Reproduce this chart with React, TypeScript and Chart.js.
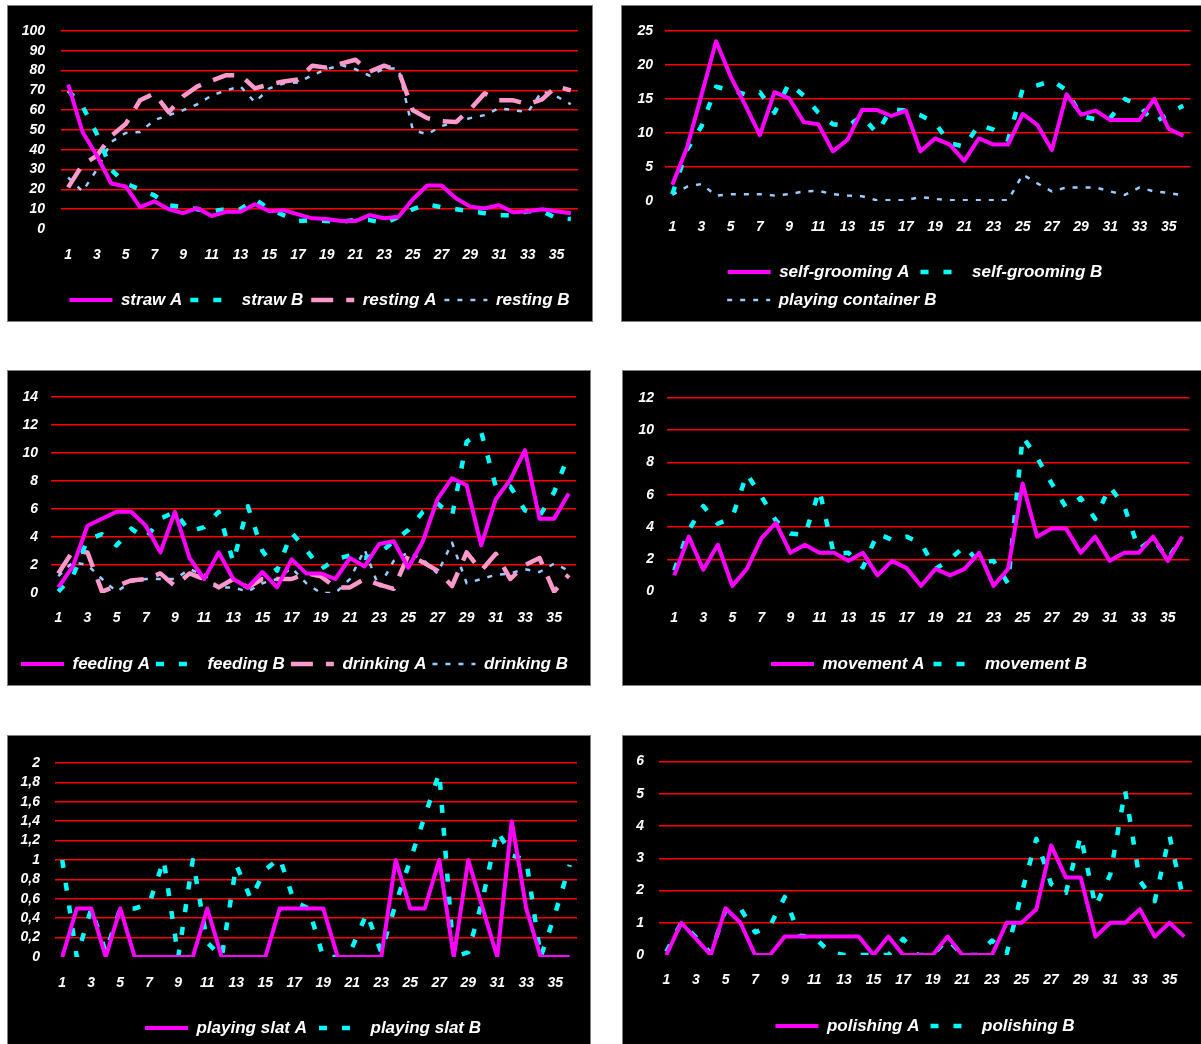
import React, { useEffect, useRef } from 'react';
import { Chart, registerables } from 'chart.js';

Chart.register(...registerables);

const days = ['1','2','3','4','5','6','7','8','9','10','11','12','13','14','15','16','17','18','19','20','21','22','23','24','25','26','27','28','29','30','31','32','33','34','35','36'];

// Panel 1
const strawA = [73, 49, 37, 23, 21.5, 11, 14, 10, 8, 10.5, 6.6, 8.7, 8.7, 12.5, 9, 9.5, 7.4, 5.4, 5, 4, 4, 7, 5.4, 6.2, 15, 22, 22, 15.5, 11.3, 10.4, 12, 8.4, 9, 10, 9, 8];
const strawB = [70, 62, 48, 30, 23, 20, 17, 12, 11, 10, 9, 10, 10, 15, 10, 7, 4, 4.5, 4, 3.7, 4.5, 4.5, 3, 6, 10, 12.5, 11, 10, 9, 8, 7, 7, 9, 9, 5.5, 5];
const restingA = [21, 32.5, 37, 47, 53, 65, 68.5, 59, 67, 72, 75, 77.7, 77.7, 71, 73, 74.5, 75.5, 82.5, 81.5, 83.5, 85.5, 79.5, 82.5, 80, 60, 56, 54.5, 54, 60.5, 68.5, 65, 65, 63, 65.5, 72, 70];
const restingB = [26, 19, 30, 44, 48.5, 49, 55, 57.5, 60, 63, 67.5, 70, 72, 64, 71, 73.5, 74, 77.7, 80.7, 82.8, 80.7, 77.4, 81, 81, 50, 47.8, 52, 54, 56, 57.5, 61, 60, 59, 69.6, 67, 63];

// Panel 2
const selfGroomingA = [2.4, 7.8, 15.6, 23.5, 18.3, 14.1, 9.7, 16, 15.1, 11.6, 11.3, 7.3, 9, 13.4, 13.4, 12.5, 13.3, 7.3, 9.2, 8.3, 5.9, 9.2, 8.3, 8.3, 12.8, 11.2, 7.5, 15.7, 12.7, 13.3, 11.9, 11.9, 11.9, 15, 10.6, 9.6];
const selfGroomingB = [1, 7.5, 11, 16.8, 16.3, 15.7, 16, 13, 17.3, 15.5, 13, 11.3, 11, 12.5, 10, 13.5, 13.3, 12.6, 11.5, 8.5, 8, 11.2, 10.5, 9, 16.5, 17, 17.7, 16.3, 12.5, 12, 12.2, 15, 14, 11.5, 12.9, 14];
const playingContainerB = [0.9, 2.1, 2.5, 0.8, 1, 1, 1, 0.8, 1, 1.4, 1.5, 1, 0.8, 0.7, 0.1, 0.1, 0.1, 0.6, 0.3, 0.1, 0.1, 0.1, 0.1, 0.1, 3.9, 2.6, 1.4, 2, 2, 2, 1.4, 0.9, 2, 1.4, 1.2, 0.8];

// Panel 3
const feedingA = [0.4, 1.9, 4.8, 5.3, 5.8, 5.8, 4.8, 2.9, 5.8, 2.5, 1, 2.9, 1, 0.4, 1.5, 0.4, 2.4, 1.4, 1.4, 1, 2.5, 1.9, 3.5, 3.7, 1.8, 3.7, 6.7, 8.2, 7.7, 3.4, 6.7, 8.1, 10.2, 5.3, 5.3, 7.1];
const feedingB = [0.1, 1.2, 3.8, 4.2, 3.4, 4.6, 3.9, 5.3, 5.8, 4.4, 4.7, 5.8, 2.2, 6.2, 3, 1.6, 4.3, 3.1, 1.7, 2.4, 2.7, 2.5, 2.8, 3.7, 4.5, 5.8, 6.4, 5.5, 10.8, 11.5, 7.6, 7.6, 5.9, 5.5, 7.2, 9.9];
const drinkingA = [1.4, 3, 2.9, 0.1, 0.5, 0.9, 1, 1.4, 0.5, 1.4, 1, 0.4, 1, 0.4, 1, 1, 1, 1.4, 1.2, 0.4, 0.4, 1, 0.6, 0.3, 2.7, 2.2, 1.6, 0.5, 2.9, 1.6, 2.8, 1, 2, 2.5, 0.1, 1.3];
const drinkingB = [1.2, 2.2, 2, 1, 0.1, 0.8, 1, 1, 1, 1.7, 1.3, 0.4, 0.4, 0.1, 0.7, 1, 1.8, 0.7, 0, 0, 1, 3.1, 0.4, 2.3, 2.9, 2.4, 1.4, 3.6, 0.7, 1, 1.3, 1.4, 1.7, 1.5, 2.1, 1.6];

// Panel 4
const movementA = [1, 3.4, 1.35, 2.9, 0.35, 1.4, 3.3, 4.25, 2.4, 2.9, 2.4, 2.4, 1.9, 2.4, 1, 1.9, 1.45, 0.35, 1.4, 1, 1.4, 2.4, 0.35, 1.4, 6.7, 3.4, 3.9, 3.9, 2.4, 3.4, 1.9, 2.4, 2.4, 3.4, 1.9, 3.4];
const movementB = [1.3, 3.8, 5.3, 4.2, 4.6, 7.3, 5.9, 4.4, 3.6, 3.5, 6.3, 2.3, 2.4, 1.5, 3.6, 3.2, 3.4, 3, 1.4, 2, 2.8, 1.8, 1.9, 0.5, 9.6, 8.3, 6.7, 5.2, 5.8, 4.5, 6.5, 5.3, 2.6, 3.3, 2, 3.4];

// Panel 5
const playingSlatA = [0, 0.5, 0.5, 0, 0.5, 0, 0, 0, 0, 0, 0.5, 0, 0, 0, 0, 0.5, 0.5, 0.5, 0.5, 0, 0, 0, 0, 1, 0.5, 0.5, 1, 0, 1, 0.5, 0, 1.4, 0.5, 0, 0, 0];
const playingSlatB = [1, 0, 0.5, 0.05, 0.5, 0.5, 0.55, 1, 0, 1, 0.15, 0, 0.95, 0.6, 0.9, 1.02, 0.57, 0.5, 0, 0, 0.1, 0.45, 0.05, 0.55, 1, 1.45, 1.9, 0, 0.05, 0.6, 1.3, 1.05, 1, 0, 0.45, 0.95];

// Panel 6
const polishingA = [0, 1, 0.5, 0, 1.45, 1, 0, 0, 0.57, 0.57, 0.57, 0.57, 0.57, 0.57, 0, 0.57, 0, 0, 0, 0.57, 0, 0, 0, 1, 1, 1.42, 3.4, 2.4, 2.4, 0.57, 1, 1, 1.42, 0.57, 1, 0.57];
const polishingB = [0.1, 1, 0.55, 0.05, 1.4, 1.45, 0.7, 0.9, 1.8, 0.6, 0.55, 0.1, 0, 0, 0, 0, 0.5, 0, 0, 0.5, 0, 0, 0.45, 0.05, 1.9, 3.6, 2.2, 1.93, 3.7, 1.5, 2.5, 5.1, 2.3, 1.67, 3.7, 1.6];

const FAMILY = '"Liberation Sans", Arial, Helvetica, sans-serif';
const MAGENTA = '#FF00FF';
const CYAN = '#00FFFF';
const PINK = '#FF99CC';
const LIGHT_BLUE = '#99CCFF';
const GRID_RED = '#FF0000';

const styleA = { borderColor: MAGENTA, borderWidth: 4, borderDash: [] as number[] };
const styleB = { borderColor: CYAN, borderWidth: 4.5, borderDash: [8, 15] };
const stylePink = { borderColor: PINK, borderWidth: 4.5, borderDash: [22, 13] };
const styleLight = { borderColor: LIGHT_BLUE, borderWidth: 2.5, borderDash: [5, 8] };

function ds(label: string, data: number[], style: any) {
  return {
    label,
    data,
    borderColor: style.borderColor,
    backgroundColor: style.borderColor,
    borderWidth: style.borderWidth,
    borderDash: style.borderDash,
    borderCapStyle: 'butt',
    borderJoinStyle: 'round',
    pointRadius: 0,
    pointHoverRadius: 0,
    tension: 0,
    fill: false,
  };
}

type Spec = {
  box: { x: number; y: number; w: number; h: number };
  area: { l: number; t: number; r: number; b: number };
  legendCenter: number;
  yMax: number;
  yStep: number;
  yGap: number;
  xLabelY: number;
  legendY: number;
  legendPad: number;
  rows: number;
  alignRows?: boolean;
  comma?: boolean;
  datasets: any[];
};

const LEGEND_FS = 17;
const TICK_FS = 14;
const BOX_W = 43;

function ChartPanel({ spec }: { spec: Spec }) {
  const ref = useRef<HTMLCanvasElement | null>(null);
  useEffect(() => {
    const { box, area } = spec;
    const p = spec.legendPad;
    const legendTop = spec.legendY - p - LEGEND_FS / 2;
    const legendH = spec.rows * (LEGEND_FS + p) + 10;
    const padTop = area.t - box.y;
    const padRight = box.x + box.w - area.r;
    const padBottom = box.y + box.h - legendTop - legendH;
    const xAxisH = legendTop - area.b;
    const yAxisW = area.l - box.x;
    const xPad = spec.xLabelY - area.b - (TICK_FS * 1.2) / 2;
    const tickFont = { family: FAMILY, size: TICK_FS, weight: 'bold', style: 'italic' };
    const legendFont = { family: FAMILY, size: LEGEND_FS, weight: 'bold', style: 'italic' };
    const fontString = `italic bold ${LEGEND_FS}px ${FAMILY}`;

    const legendShift = {
      id: 'legendShift',
      afterLayout(chart: any) {
        const lg = chart.legend;
        if (!lg) return;
        const cur = (lg.left + lg.right) / 2;
        const shift = spec.legendCenter - box.x - cur;
        lg.left += shift;
        lg.right += shift;
      },
    };

    const chart = new Chart(ref.current as HTMLCanvasElement, {
      type: 'line',
      data: { labels: days, datasets: spec.datasets },
      plugins: [legendShift],
      options: {
        animation: false,
        responsive: false,
        maintainAspectRatio: false,
        events: [],
        layout: { padding: { left: 0, top: padTop, right: padRight, bottom: padBottom } },
        plugins: {
          tooltip: { enabled: false },
          legend: {
            display: true,
            position: 'bottom',
            align: 'center',
            labels: {
              usePointStyle: true,
              pointStyle: 'line',
              pointStyleWidth: BOX_W,
              boxWidth: BOX_W,
              padding: p,
              color: '#FFFFFF',
              font: legendFont,
              generateLabels: (chart: any) => {
                const items: any[] = chart.data.datasets.map((d: any, i: number) => ({
                  text: d.label,
                  fillStyle: 'rgba(0,0,0,0)',
                  strokeStyle: d.borderColor,
                  lineWidth: d.borderWidth,
                  lineDash: d.borderDash,
                  lineCap: 'butt',
                  pointStyle: 'line',
                  hidden: false,
                  fontColor: '#FFFFFF',
                  datasetIndex: i,
                }));
                if (spec.alignRows && items.length >= 3) {
                  const ctx = chart.ctx;
                  ctx.save();
                  ctx.font = fontString;
                  const tw = (t: string) => ctx.measureText(t).width;
                  const itemW = (t: string) => BOX_W + LEGEND_FS / 2 + tw(t);
                  const row1 = itemW(items[0].text) + p + itemW(items[1].text);
                  const row2 = itemW(items[2].text) + p;
                  const need = row1 - row2 - BOX_W - LEGEND_FS / 2;
                  const n = Math.max(0, Math.round(need / tw(' ')));
                  ctx.restore();
                  items.push({
                    text: ' '.repeat(n),
                    fillStyle: 'rgba(0,0,0,0)',
                    strokeStyle: 'rgba(0,0,0,0)',
                    lineWidth: 0,
                    lineDash: [],
                    pointStyle: 'line',
                    hidden: false,
                    fontColor: '#FFFFFF',
                    datasetIndex: -1,
                  });
                }
                return items;
              },
            },
          },
        },
        scales: {
          x: {
            type: 'category',
            offset: true,
            grid: { display: false, drawTicks: false },
            border: { display: false },
            ticks: {
              autoSkip: false,
              maxRotation: 0,
              minRotation: 0,
              padding: xPad,
              color: '#FFFFFF',
              font: tickFont,
              callback: (_v: any, i: number) => (i % 2 === 0 ? days[i] : ''),
            },
            afterFit: (s: any) => {
              s.height = xAxisH;
            },
          },
          y: {
            min: 0,
            max: spec.yMax,
            grid: {
              drawTicks: false,
              lineWidth: 1.5,
              color: (c: any) => (c.tick && Math.abs(c.tick.value) < 1e-9 ? 'rgba(0,0,0,0)' : GRID_RED),
            },
            border: { display: false },
            ticks: {
              autoSkip: false,
              stepSize: spec.yStep,
              maxTicksLimit: 20,
              padding: spec.yGap,
              color: '#FFFFFF',
              font: tickFont,
              callback: (v: any) => {
                const r = Math.round(Number(v) * 10) / 10;
                return spec.comma ? String(r).replace('.', ',') : String(r);
              },
            },
            afterFit: (s: any) => {
              s.width = yAxisW;
            },
          },
        },
      } as any,
    });
    return () => chart.destroy();
  }, []);

  const { box } = spec;
  return (
    <div
      style={{
        position: 'absolute',
        left: box.x - 1,
        top: box.y - 1,
        width: box.w,
        height: box.h,
        border: '1px solid #808080',
        background: '#000000',
      }}
    >
      <canvas ref={ref} width={box.w} height={box.h} style={{ display: 'block', width: box.w, height: box.h }} />
    </div>
  );
}

const panels: Spec[] = [
  {
    box: { x: 8, y: 6, w: 584, h: 315 },
    area: { l: 61, t: 31, r: 578, b: 229 },
    legendCenter: 319.5, yMax: 100, yStep: 10, yGap: 16, xLabelY: 255, legendY: 300, legendPad: 8, rows: 1,
    datasets: [ds('straw A', strawA, styleA), ds('straw B', strawB, styleB), ds('resting A', restingA, stylePink), ds('resting B', restingB, styleLight)],
  },
  {
    box: { x: 622, y: 6, w: 579, h: 315 },
    area: { l: 665, t: 31, r: 1193, b: 201 },
    legendCenter: 915, yMax: 25, yStep: 5, yGap: 12, xLabelY: 227, legendY: 272, legendPad: 11, rows: 2, alignRows: true,
    datasets: [ds('self-grooming A', selfGroomingA, styleA), ds('self-grooming B', selfGroomingB, styleB), ds('playing container B', playingContainerB, styleLight)],
  },
  {
    box: { x: 8, y: 371, w: 582, h: 314 },
    area: { l: 51, t: 397, r: 576, b: 593 },
    legendCenter: 294.5, yMax: 14, yStep: 2, yGap: 13, xLabelY: 618.5, legendY: 664, legendPad: 6, rows: 1,
    datasets: [ds('feeding A', feedingA, styleA), ds('feeding B', feedingB, styleB), ds('drinking A', drinkingA, stylePink), ds('drinking B', drinkingB, styleLight)],
  },
  {
    box: { x: 623, y: 371, w: 578, h: 314 },
    area: { l: 667, t: 398, r: 1193, b: 591.5 },
    legendCenter: 929, yMax: 12, yStep: 2, yGap: 13, xLabelY: 618.5, legendY: 664, legendPad: 9, rows: 1,
    datasets: [ds('movement A', movementA, styleA), ds('movement B', movementB, styleB)],
  },
  {
    box: { x: 8, y: 736, w: 582, h: 320 },
    area: { l: 55, t: 763, r: 577, b: 957 },
    legendCenter: 313, yMax: 2, yStep: 0.2, yGap: 15, xLabelY: 983, legendY: 1028, legendPad: 12, rows: 1, comma: true,
    datasets: [ds('playing slat A', playingSlatA, styleA), ds('playing slat B', playingSlatB, styleB)],
  },
  {
    box: { x: 623, y: 736, w: 578, h: 320 },
    area: { l: 659, t: 761.5, r: 1193, b: 955 },
    legendCenter: 925, yMax: 6, yStep: 1, yGap: 15, xLabelY: 980, legendY: 1026, legendPad: 11, rows: 1,
    datasets: [ds('polishing A', polishingA, styleA), ds('polishing B', polishingB, styleB)],
  },
];

export default function App() {
  return (
    <div
      style={{
        position: 'absolute',
        left: 0,
        top: 0,
        width: 1201,
        height: 1044,
        overflow: 'hidden',
        background: '#FFFFFF',
      }}
    >
      {panels.map((s, i) => (
        <ChartPanel key={i} spec={s} />
      ))}
    </div>
  );
}
